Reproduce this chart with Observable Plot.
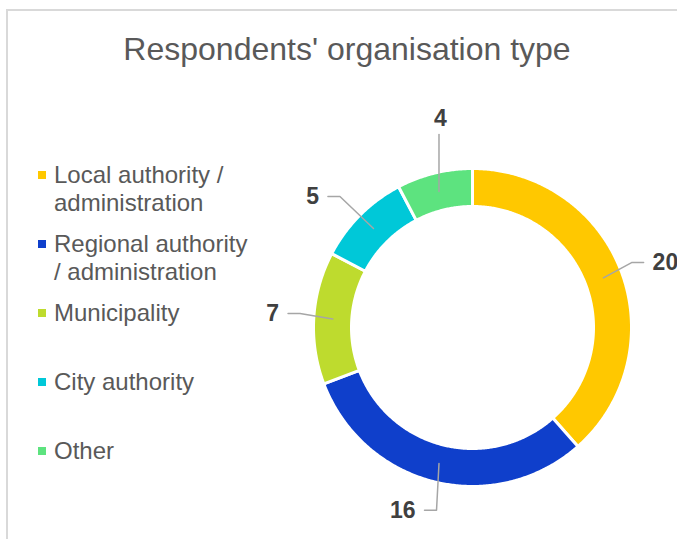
<!DOCTYPE html>
<html>
<head>
<meta charset="utf-8">
<script src="https://cdn.jsdelivr.net/npm/d3@7"></script>
<script src="https://cdn.jsdelivr.net/npm/@observablehq/plot@0.6"></script>
<style>
  html, body { margin: 0; padding: 0; background: #fff; }
  #wrap { position: relative; width: 677px; height: 539px; overflow: hidden; font-family: "Liberation Sans", Arial, sans-serif; }
  #frame { position: absolute; left: 6px; top: 9px; width: 700px; height: 600px; border-top: 2px solid #d9d9d9; border-left: 2px solid #d9d9d9; box-sizing: border-box; }
  #chart { position: absolute; left: 0; top: 0; }
  #title { position: absolute; left: 17px; width: 660px; top: 33px; text-align: center; font-size: 32px; line-height: 32px; color: #595959; white-space: nowrap; }
  .item { position: absolute; left: 38px; height: 69px; }
  .mark { position: absolute; left: 0; top: 10px; width: 8px; height: 8px; }
  .lab { position: absolute; left: 16px; top: 0; width: 200px; font-size: 24px; line-height: 28px; color: #595959; }
</style>
</head>
<body>
<div id="wrap">
  <div id="frame"></div>
  <div id="chart"></div>
  <div id="title">Respondents' organisation type</div>
  <div id="legend"></div>
</div>
<script>
// ---- data ----
const title = "Respondents' organisation type";
const categories = ["Local authority / administration", "Regional authority / administration", "Municipality", "City authority", "Other"];
const counts = [20, 16, 7, 5, 4];
const colors = ["#FFC800", "#0F3FCB", "#BEDB2E", "#00C8D8", "#5DE37F"];

// ---- layout (not data) ----
const CX = 472, CY = 327, R = 159, INNER = 121 / 159;
const LABEL_FS = 23;
const labelAngleDeg = [71.4, 200.9, 274, 309.3, 351.3];
const labelRadius = [1.28, 1.23, 1.26, 1.30, 1.33];
const leaderStyle = ["side", "side", "side", "side", "below"];

const arcs = d3.pie().sort(null).value(d => d)(counts);

// ring slices as closed polygons in unit coordinates
const slicePts = [];
arcs.forEach((a, i) => {
  const n = Math.max(8, Math.ceil((a.endAngle - a.startAngle) / (Math.PI / 360)));
  for (let k = 0; k <= n; k++) {
    const t = a.startAngle + (a.endAngle - a.startAngle) * k / n;
    slicePts.push({cat: categories[i], x: Math.sin(t), y: Math.cos(t)});
  }
  for (let k = n; k >= 0; k--) {
    const t = a.startAngle + (a.endAngle - a.startAngle) * k / n;
    slicePts.push({cat: categories[i], x: INNER * Math.sin(t), y: INNER * Math.cos(t)});
  }
});

// labels and leader lines
const labels = [];
const leaders = [];
arcs.forEach((a, i) => {
  const mid = (a.startAngle + a.endAngle) / 2;
  const sr = (1 + INNER) / 2;
  const s = {x: sr * Math.sin(mid), y: sr * Math.cos(mid)};
  const la = labelAngleDeg[i] * Math.PI / 180;
  const L = {x: labelRadius[i] * Math.sin(la), y: labelRadius[i] * Math.cos(la), text: String(counts[i])};
  labels.push(L);
  const halfW = String(counts[i]).length * 0.556 * LABEL_FS / 2 / R;
  if (leaderStyle[i] === "side") {
    const dir = L.x > 0 ? -1 : 1;
    leaders.push({id: i, x: s.x, y: s.y});
    leaders.push({id: i, x: L.x + dir * (halfW + 21 / R), y: L.y});
    leaders.push({id: i, x: L.x + dir * (halfW + 9 / R), y: L.y});
  } else {
    leaders.push({id: i, x: s.x, y: s.y});
    leaders.push({id: i, x: s.x, y: L.y - 16 / R});
  }
});

const svg = Plot.plot({
  width: 677,
  height: 539,
  margin: 0,
  x: {domain: [-1, 1], range: [CX - R, CX + R], axis: null},
  y: {domain: [-1, 1], range: [CY + R, CY - R], axis: null},
  color: {domain: categories, range: colors},
  style: {background: "transparent", fontFamily: "'Liberation Sans', Arial, sans-serif", overflow: "hidden"},
  marks: [
    Plot.line(slicePts, {x: "x", y: "y", z: "cat", fill: "cat", stroke: "white", strokeWidth: 3, curve: "linear-closed"}),
    Plot.line(leaders, {x: "x", y: "y", z: "id", stroke: "#a6a6a6", strokeWidth: 1.5}),
    Plot.text(labels, {x: "x", y: "y", text: "text", fontSize: LABEL_FS, fontWeight: "bold", fill: "#404040"})
  ]
});
document.getElementById("chart").appendChild(svg);
document.getElementById("title").textContent = title;

const legend = document.getElementById("legend");
categories.forEach((c, i) => {
  const item = document.createElement("div");
  item.className = "item";
  item.style.top = (161 + i * 69) + "px";
  const m = document.createElement("div");
  m.className = "mark";
  m.style.background = colors[i];
  const t = document.createElement("div");
  t.className = "lab";
  t.textContent = c;
  item.appendChild(m);
  item.appendChild(t);
  legend.appendChild(item);
});
</script>
</body>
</html>
